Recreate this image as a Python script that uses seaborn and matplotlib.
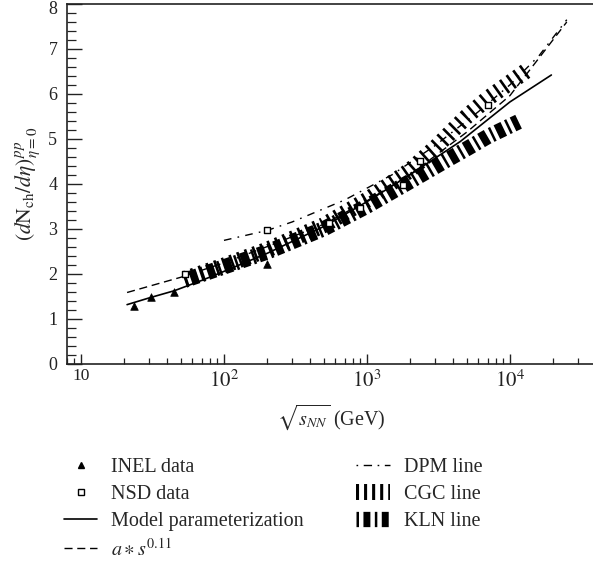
import matplotlib
matplotlib.use("Agg")
import matplotlib.pyplot as plt
import seaborn as sns
import pandas as pd
from matplotlib.lines import Line2D
from matplotlib.transforms import ScaledTranslation
from matplotlib.ticker import FixedLocator, FixedFormatter, LogLocator, MultipleLocator, NullFormatter

# ---------------- data ----------------
inel_x = [23.5, 30.8, 45, 200]
inel_y = [1.27, 1.47, 1.60, 2.22]

nsd_x = [53, 200, 546, 900, 1800, 2360, 7000]
nsd_y = [2.00, 2.96, 3.12, 3.45, 3.98, 4.50, 5.75]

model_x = [21, 30, 45, 70, 100, 200, 500, 1000, 2000, 4500, 10000, 19500]
model_y = [1.31, 1.46, 1.62, 1.85, 2.05, 2.45, 3.05, 3.60, 4.20, 4.94, 5.82, 6.42]

power_x = [21, 50, 100, 200, 500, 1000, 2000, 5000, 10000, 16000, 25000]
power_y = [1.58, 1.92, 2.24, 2.60, 3.10, 3.62, 4.20, 5.15, 5.96, 6.80, 7.60]

dpm_x = [100, 200, 300, 700, 1500, 3000, 6000, 10000, 16000, 25000]
dpm_y = [2.74, 2.96, 3.15, 3.64, 4.20, 4.85, 5.60, 6.20, 6.85, 7.65]

cgc_x = [53, 100, 200, 500, 1000, 2000, 3000, 5000, 7000, 10000, 13500]
cgc_y = [1.88, 2.18, 2.53, 3.08, 3.64, 4.30, 4.80, 5.50, 5.90, 6.25, 6.55]

kln_x = [53, 100, 200, 500, 1000, 2000, 3500, 5000, 7000, 11500]
kln_y = [1.85, 2.15, 2.48, 3.00, 3.50, 4.05, 4.50, 4.78, 5.05, 5.38]

xtick_vals = [10, 100, 1000, 10000]
xtick_labels = ["10", "$10^2$", "$10^3$", "$10^4$"]
ytick_vals = [0, 1, 2, 3, 4, 5, 6, 7, 8]

# ---------------- style ----------------
sns.set_theme(style="ticks")
plt.rcParams["font.family"] = ["Liberation Serif", "DejaVu Serif"]
plt.rcParams["mathtext.fontset"] = "stix"
plt.rcParams["lines.scale_dashes"] = False
plt.rcParams["axes.edgecolor"] = "#222222"
plt.rcParams["xtick.color"] = "#222222"
plt.rcParams["ytick.color"] = "#222222"

FS = 12.5
fig = plt.figure(figsize=(5.93, 5.62), dpi=100)
ax = fig.add_axes([0.113, 0.3532, 0.892, 0.6397])


def df(x, y):
    return pd.DataFrame({"x": x, "y": y})


# thick patterned bands
sns.lineplot(data=df(kln_x, kln_y), x="x", y="y", ax=ax, color="black",
             linewidth=11, sort=False, estimator=None, zorder=2)
kln_line = ax.lines[-1]
kln_line.set_dashes((1.8, 2.8, 5.5, 2.8))
kln_line.set_dash_capstyle("butt")

sns.lineplot(data=df(cgc_x, cgc_y), x="x", y="y", ax=ax, color="black",
             linewidth=11.5, sort=False, estimator=None, zorder=2)
cgc_line = ax.lines[-1]
cgc_line.set_dashes((1.9, 4.0))
cgc_line.set_dash_capstyle("butt")

# thin lines
sns.lineplot(data=df(model_x, model_y), x="x", y="y", ax=ax, color="black",
             linewidth=1.2, sort=False, estimator=None, zorder=3)

sns.lineplot(data=df(power_x, power_y), x="x", y="y", ax=ax, color="black",
             linewidth=1.0, sort=False, estimator=None, zorder=3)
ax.lines[-1].set_dashes((5.8, 3.4))

sns.lineplot(data=df(dpm_x, dpm_y), x="x", y="y", ax=ax, color="black",
             linewidth=1.0, sort=False, estimator=None, zorder=3)
ax.lines[-1].set_dashes((5.5, 4.5, 1.2, 4.5))

# data markers
sns.scatterplot(data=df(inel_x, inel_y), x="x", y="y", ax=ax, marker="^",
                color="black", s=30, edgecolor="black", linewidth=0.5, zorder=5)
sns.scatterplot(data=df(nsd_x, nsd_y), x="x", y="y", ax=ax, marker="s",
                color="white", s=22, edgecolor="black", linewidth=1.0, zorder=6)

# ---------------- axes ----------------
ax.set_xscale("log")
ax.set_xlim(7.98, 40000)
ax.set_ylim(0, 8)
ax.xaxis.set_major_locator(FixedLocator(xtick_vals))
ax.xaxis.set_major_formatter(FixedFormatter(xtick_labels))
ax.xaxis.set_minor_locator(LogLocator(base=10, subs=[2, 3, 4, 5, 6, 7, 8, 9], numticks=20))
ax.xaxis.set_minor_formatter(NullFormatter())
ax.yaxis.set_major_locator(FixedLocator(ytick_vals))
ax.yaxis.set_minor_locator(MultipleLocator(0.2))

ax.tick_params(axis="x", which="major", direction="in", length=7.5, width=1.0,
               pad=3, labelsize=FS)
ax.tick_params(axis="x", which="minor", direction="in", length=4, width=0.9)
ax.tick_params(axis="y", which="major", direction="in", length=11, width=1.0,
               pad=7, labelsize=13)
ax.tick_params(axis="y", which="minor", direction="in", length=6.5, width=0.9)
ax.tick_params(top=False, right=False, which="both")

for s in ["left", "bottom", "top"]:
    ax.spines[s].set_linewidth(1.2)
ax.spines["right"].set_visible(False)

# per-label adjustments: bigger power labels, "8" pushed inside the figure
xt = ax.xaxis.get_major_ticks()
for i, t in enumerate(xt):
    if i > 0:
        t.label1.set_fontsize(15)
        t.label1.set_transform(t.label1.get_transform() +
                               ScaledTranslation(0, -3 / 100, fig.dpi_scale_trans))
yt = ax.yaxis.get_major_ticks()
yt[-1].label1.set_transform(yt[-1].label1.get_transform() +
                            ScaledTranslation(0, -4 / 100, fig.dpi_scale_trans))

ax.set_xlabel(r"$\sqrt{s_{NN}}$ (GeV)", fontsize=14.5, labelpad=7)
ax.set_ylabel(r"$(d\mathrm{N}_{\mathrm{ch}}/d\eta)^{pp}_{\eta=0}$", fontsize=15.5, labelpad=4)

# ---------------- legend ----------------
handles = [
    Line2D([], [], marker="^", color="black", linestyle="none", markersize=5),
    Line2D([], [], marker="s", markerfacecolor="white", markeredgecolor="black",
           linestyle="none", markersize=4.5, markeredgewidth=1.0),
    Line2D([], [], color="black", linewidth=1.2),
    Line2D([], [], color="black", linewidth=1.0, dashes=(5.8, 3.4)),
    Line2D([], [], color="black", linewidth=1.0, dashes=(1.2, 4.0, 6.0, 4.0)),
    Line2D([], [], color="black", linewidth=11.5, dashes=(2.2, 3.6), dash_capstyle="butt"),
    Line2D([], [], color="black", linewidth=11, dashes=(1.8, 3.2, 5.0, 3.2), dash_capstyle="butt"),
]
labels = ["INEL data", "NSD data", "Model parameterization", r"$a\ast s^{0.11}$",
          "DPM line", "CGC line", "KLN line"]

LFS = 14.5
fig.legend(handles, labels, ncol=2, loc="upper left",
           bbox_to_anchor=(0.108, 1 - 458 / 562), frameon=False, fontsize=LFS,
           handlelength=1.65, handletextpad=0.7, columnspacing=2.6,
           labelspacing=0.38, borderpad=0, borderaxespad=0, numpoints=1)

fig.savefig("out.png", dpi=100)
